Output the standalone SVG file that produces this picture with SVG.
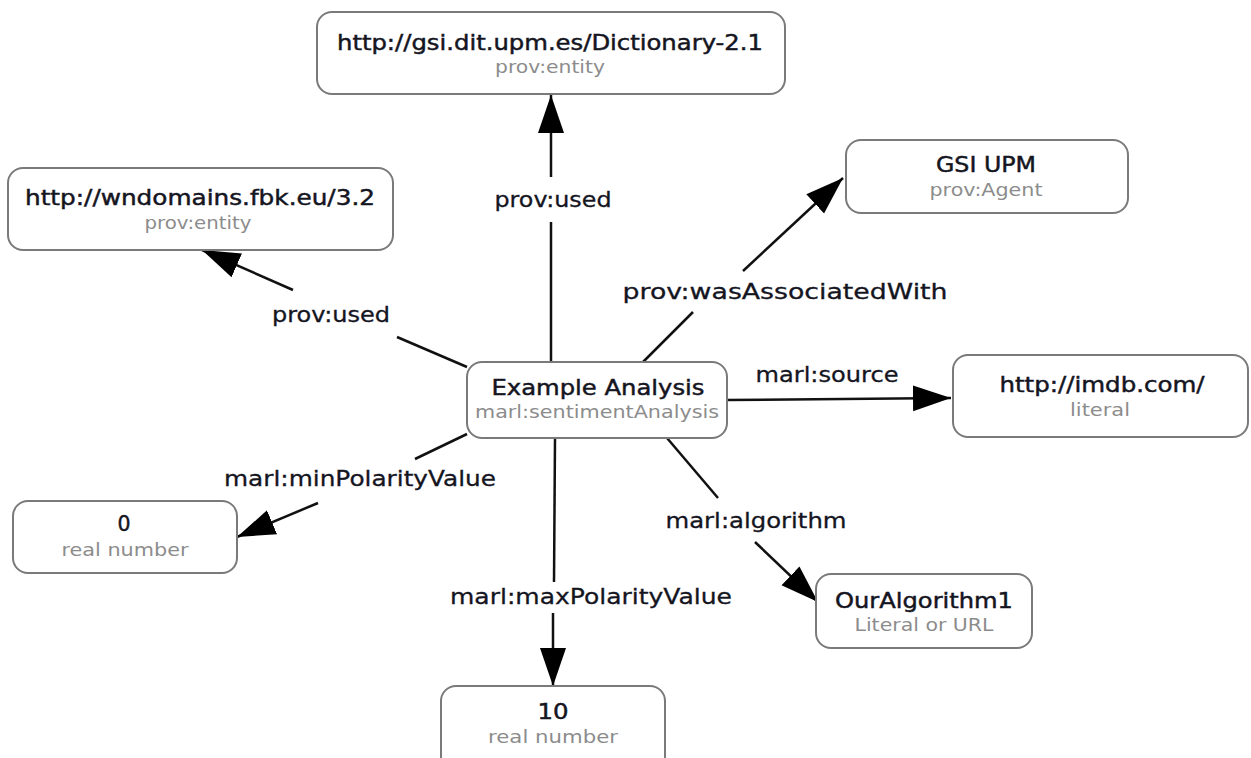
<svg xmlns="http://www.w3.org/2000/svg" width="1251" height="758" viewBox="0 0 1251 758">
<style>
.box{fill:#fff;stroke:#7a7a7a;stroke-width:2}
.t{font-family:"DejaVu Sans","Liberation Sans",sans-serif;font-size:20.5px;fill:#15151f;stroke:#15151f;stroke-width:0.45;text-anchor:middle}
.s{font-family:"DejaVu Sans","Liberation Sans",sans-serif;font-size:17px;fill:#8c8c8c;text-anchor:middle}
.l{font-family:"DejaVu Sans","Liberation Sans",sans-serif;font-size:21px;fill:#15151f;stroke:#15151f;stroke-width:0.3;text-anchor:middle}
.e{stroke:#111;stroke-width:2.5;fill:none}
</style>
<defs>
<marker id="arr" markerUnits="userSpaceOnUse" viewBox="-38 -14 38 28" refX="0" refY="0" markerWidth="38" markerHeight="28" orient="auto">
<path d="M0,0 L-38,-13 L-38,13 z" fill="#000"/>
</marker>
</defs>
<rect width="1251" height="758" fill="#fff"/>
<g id="connectors">
<g id="e-used-top">
<line class="e" x1="551" y1="362" x2="551" y2="222"/>
<line class="e" x1="551" y1="177" x2="551" y2="95" marker-end="url(#arr)"/>
<text class="l" x="553" y="207" textLength="117" lengthAdjust="spacingAndGlyphs">prov:used</text>
</g>
<g id="e-used-left">
<line class="e" x1="467" y1="367" x2="397" y2="337"/>
<line class="e" x1="293" y1="290" x2="202" y2="250" marker-end="url(#arr)"/>
<text class="l" x="331" y="322" textLength="118" lengthAdjust="spacingAndGlyphs">prov:used</text>
</g>
<g id="e-assoc">
<line class="e" x1="643" y1="362" x2="693" y2="312"/>
<line class="e" x1="743" y1="271" x2="843" y2="178" marker-end="url(#arr)"/>
<text class="l" x="785" y="299" textLength="325" lengthAdjust="spacingAndGlyphs">prov:wasAssociatedWith</text>
</g>
<g id="e-source">
<line class="e" x1="727" y1="400" x2="951" y2="398" marker-end="url(#arr)"/>
<text class="l" x="827" y="382" textLength="143" lengthAdjust="spacingAndGlyphs">marl:source</text>
</g>
<g id="e-algorithm">
<line class="e" x1="667" y1="438" x2="718" y2="498"/>
<line class="e" x1="755" y1="542" x2="818" y2="602" marker-end="url(#arr)"/>
<text class="l" x="756" y="528" textLength="181" lengthAdjust="spacingAndGlyphs">marl:algorithm</text>
</g>
<g id="e-max">
<line class="e" x1="555" y1="438" x2="554" y2="582"/>
<line class="e" x1="553" y1="613" x2="553" y2="686" marker-end="url(#arr)"/>
<text class="l" x="591" y="604" textLength="282" lengthAdjust="spacingAndGlyphs">marl:maxPolarityValue</text>
</g>
<g id="e-min">
<line class="e" x1="467" y1="434" x2="415" y2="459"/>
<line class="e" x1="318" y1="503" x2="237" y2="537" marker-end="url(#arr)"/>
<text class="l" x="360" y="486" textLength="272" lengthAdjust="spacingAndGlyphs">marl:minPolarityValue</text>
</g>
</g>
<g id="n-dictionary">
<rect class="box" x="317" y="12" width="468" height="82" rx="15"/>
<text class="t" x="550" y="50" textLength="426" lengthAdjust="spacingAndGlyphs">http://gsi.dit.upm.es/Dictionary-2.1</text>
<text class="s" x="550" y="73" textLength="110" lengthAdjust="spacingAndGlyphs">prov:entity</text>
</g>
<g id="n-wndomains">
<rect class="box" x="8" y="168" width="385" height="82" rx="15"/>
<text class="t" x="200" y="205" textLength="350" lengthAdjust="spacingAndGlyphs">http://wndomains.fbk.eu/3.2</text>
<text class="s" x="198" y="229" textLength="107" lengthAdjust="spacingAndGlyphs">prov:entity</text>
</g>
<g id="n-gsi">
<rect class="box" x="846" y="140" width="282" height="73" rx="15"/>
<text class="t" x="986" y="172" textLength="100" lengthAdjust="spacingAndGlyphs">GSI UPM</text>
<text class="s" x="986" y="196" textLength="113" lengthAdjust="spacingAndGlyphs">prov:Agent</text>
</g>
<g id="n-example">
<rect class="box" x="467" y="362" width="260" height="76" rx="15"/>
<text class="t" x="598" y="395" textLength="213" lengthAdjust="spacingAndGlyphs">Example Analysis</text>
<text class="s" x="597" y="418" textLength="244" lengthAdjust="spacingAndGlyphs">marl:sentimentAnalysis</text>
</g>
<g id="n-imdb">
<rect class="box" x="953" y="355" width="295" height="82" rx="15"/>
<text class="t" x="1102" y="392" textLength="205" lengthAdjust="spacingAndGlyphs">http://imdb.com/</text>
<text class="s" x="1100" y="416" textLength="60" lengthAdjust="spacingAndGlyphs">literal</text>
</g>
<g id="n-zero">
<rect class="box" x="13" y="501" width="224" height="72" rx="15"/>
<text class="t" x="124" y="531">0</text>
<text class="s" x="125" y="556" textLength="127" lengthAdjust="spacingAndGlyphs">real number</text>
</g>
<g id="n-algorithm">
<rect class="box" x="816" y="574" width="216" height="74" rx="15"/>
<text class="t" x="924" y="608" textLength="178" lengthAdjust="spacingAndGlyphs">OurAlgorithm1</text>
<text class="s" x="924" y="631" textLength="139" lengthAdjust="spacingAndGlyphs">Literal or URL</text>
</g>
<g id="n-ten">
<rect class="box" x="441" y="686" width="224" height="90" rx="15"/>
<text class="t" x="553" y="719" textLength="31" lengthAdjust="spacingAndGlyphs">10</text>
<text class="s" x="553" y="743" textLength="130" lengthAdjust="spacingAndGlyphs">real number</text>
</g>
</svg>
